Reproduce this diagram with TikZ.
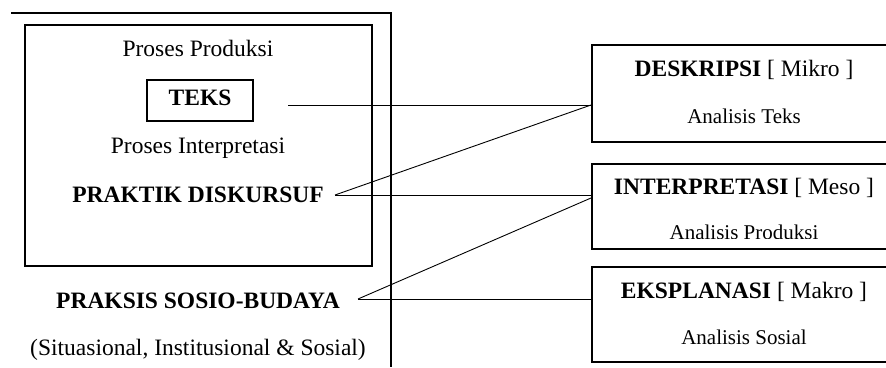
\documentclass[tikz,border=0pt]{standalone}
\usepackage{fontspec}
\setmainfont{Liberation Serif}
\usetikzlibrary{positioning}
\tikzstyle{frame}=[draw, line width=1.6pt]
\tikzstyle{rbox}=[draw, line width=1.5pt, anchor=north west, inner sep=0pt]
\tikzstyle{bigtext}=[font=\fontsize{23.5}{28}\selectfont, inner sep=0pt, anchor=base]
\tikzstyle{smalltext}=[font=\fontsize{21}{25}\selectfont, inner sep=0pt, anchor=base]
\tikzstyle{link}=[draw, line width=0.9pt]

\begin{document}
\begin{tikzpicture}[x=1pt, y=-1pt]
    \useasboundingbox (0,0) rectangle (886,367);

    % outer frame and inner box
    \draw[frame] (11,13) -- (391,13) -- (391,367);
    \draw[frame] (25,25) rectangle (372,266);

    % left column
    \node[bigtext] (produksi) at (198,56) {Proses Produksi};
    \node[draw, line width=1.3pt, minimum width=106pt, minimum height=41pt,
          font=\bfseries\fontsize{23.5}{28}\selectfont, text depth=5pt] (teks) at (200,100.5) {TEKS};
    \node[bigtext] (interp) at (198,153) {Proses Interpretasi};
    \node[bigtext, font=\bfseries\fontsize{23.5}{28}\selectfont] (praktik) at (198,202) {PRAKTIK DISKURSUF};
    \node[bigtext, font=\bfseries\fontsize{23.5}{28}\selectfont] (praksis) at (198,308) {PRAKSIS SOSIO-BUDAYA};
    \node[bigtext] (situasi) at (198,355) {(Situasional, Institusional \& Sosial)};

    % right boxes
    \foreach \pos/\h/\name in {{(591,44)/97/desk}, {(591,163)/85/inter}, {(591,266)/95/ekspl}}
        \node[rbox, minimum width=310pt, minimum height=\h pt] (\name) at \pos {};

    \node[bigtext] (deskt) at (744,76) {\textbf{DESKRIPSI} [ Mikro ]};
    \node[smalltext] (deska) at (744,123) {Analisis Teks};
    \node[bigtext] (intert) at (744,194) {\textbf{INTERPRETASI} [ Meso ]};
    \begin{scope}
        \clip (591,200) rectangle (886,238);
        \node[smalltext] (intera) at (744,239) {Analisis Produksi};
    \end{scope}
    \node[bigtext] (eksplt) at (744,298) {\textbf{EKSPLANASI} [ Makro ]};
    \node[smalltext] (ekspla) at (744,344) {Analisis Sosial};

    % connector ends
    \coordinate (tekso) at (288,105);
    \coordinate (praktiko) at (335,195);
    \coordinate (praksiso) at (358,299);
    \coordinate (deskin) at (591,105);
    \coordinate (interin) at (591,195);
    \coordinate (interin2) at (591,198);
    \coordinate (ekspin) at (591,299);

    \foreach \source/ \dest in {tekso/deskin, praktiko/deskin, praktiko/interin, praksiso/interin2, praksiso/ekspin}
        \path[link] (\source) -- (\dest);

\end{tikzpicture}
\end{document}
